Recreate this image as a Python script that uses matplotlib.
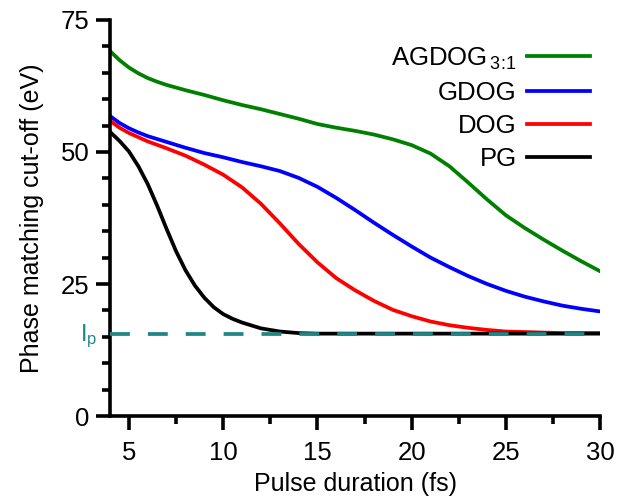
import matplotlib.pyplot as plt
import numpy as np

plt.rcParams['font.family'] = ['Liberation Sans', 'DejaVu Sans']
plt.rcParams['mathtext.fontset'] = 'custom'
plt.rcParams['mathtext.rm'] = 'Liberation Sans'
plt.rcParams['mathtext.it'] = 'Liberation Sans:italic'

# cut-off energy (eV) vs pulse duration (fs)
t_agdog = [4, 4.5, 5, 5.5, 6, 6.5, 7, 8, 9, 10, 11, 12, 13, 14, 15, 16, 17, 18, 19,
           20, 21, 22, 23, 24, 25, 26, 27, 28, 29, 30]
agdog = [69.1, 67.4, 66.0, 64.9, 64.0, 63.3, 62.7, 61.7, 60.8, 59.8, 58.9, 58.1, 57.2,
         56.3, 55.3, 54.6, 54.0, 53.3, 52.4, 51.3, 49.7, 47.3, 44.2, 41.0, 38.0, 35.6,
         33.4, 31.3, 29.3, 27.4]

t_gdog = [4, 4.5, 5, 5.5, 6, 7, 8, 9, 10, 11, 12, 13, 14, 15, 16, 17, 18, 19, 20,
          21, 22, 23, 24, 25, 26, 27, 28, 29, 30]
gdog = [56.8, 55.5, 54.5, 53.7, 53.0, 51.9, 50.8, 49.8, 49.0, 48.1, 47.3, 46.4, 45.1,
        43.4, 41.3, 39.0, 36.6, 34.3, 32.1, 30.0, 28.2, 26.5, 25.0, 23.7, 22.6, 21.7,
        20.9, 20.3, 19.8]

t_dog = [4, 4.5, 5, 5.5, 6, 7, 8, 9, 10, 11, 12, 13, 14, 15, 16, 17, 18, 19, 20,
         21, 22, 23, 24, 25, 26, 27, 28, 29, 30]
dog = [55.9, 54.6, 53.6, 52.8, 52.0, 50.7, 49.3, 47.6, 45.7, 43.3, 40.2, 36.5, 32.6,
       29.1, 26.1, 23.8, 21.8, 20.1, 18.9, 17.9, 17.2, 16.7, 16.3, 16.0, 15.9, 15.8,
       15.7, 15.7, 15.7]

t_pg = [4, 4.5, 5, 5.5, 6, 6.5, 7, 7.5, 8, 8.5, 9, 9.5, 10, 10.5, 11, 12, 13, 14, 15,
        20, 25, 30]
pg = [53.8, 52.1, 50.1, 47.3, 43.9, 39.8, 35.4, 31.2, 27.6, 24.7, 22.4, 20.6, 19.3,
      18.4, 17.7, 16.6, 16.0, 15.7, 15.6, 15.6, 15.6, 15.6]

ip = 15.6

fig = plt.figure(figsize=(6.22, 5.0), dpi=100)
ax = fig.add_axes([0.177, 0.168, 0.788, 0.792])

lw = 2.7
ax.plot(t_agdog, agdog, color='#008000', lw=lw, label=r'AGDOG$_{\,3\!:\!1}$')
ax.plot(t_gdog, gdog, color='#0000ff', lw=lw, label='GDOG')
ax.plot(t_dog, dog, color='#ff0000', lw=lw, label='DOG')
ax.plot(t_pg, pg, color='black', lw=lw, label='PG')
ax.plot([4, 30], [ip, ip], color='#1f8585', lw=2.7, dashes=(5.3, 4.8), zorder=5)
ax.text(3.3, ip - 0.5, r'I$_\mathrm{p}$', color='#1f8585', fontsize=17,
        ha='right', va='center', clip_on=False)

ax.set_xlim(4, 30)
ax.set_ylim(0, 75)
ax.set_xticks([5, 10, 15, 20, 25, 30])
ax.set_xticks(np.arange(7.5, 30, 5), minor=True)
ax.set_yticks([0, 25, 50, 75])
ax.set_yticks(np.arange(5, 75, 5), minor=True)

for side in ('top', 'right'):
    ax.spines[side].set_visible(False)
for side in ('left', 'bottom'):
    ax.spines[side].set_linewidth(2.6)
ax.tick_params(which='major', direction='out', length=10, width=2.6, labelsize=18.5)
ax.tick_params(which='minor', direction='out', length=6, width=2.6)
ax.tick_params(axis='x', which='major', pad=8)
ax.tick_params(axis='y', which='major', pad=5)

ax.set_xlabel('Pulse duration (fs)', fontsize=18, labelpad=5)
ax.set_ylabel('Phase matching cut-off (eV)', fontsize=18, labelpad=12)

ax.legend(loc='upper right', bbox_to_anchor=(1.0, 0.962), markerfirst=False,
          frameon=False, fontsize=18.5, handlelength=2.45, handletextpad=0.4,
          labelspacing=0.36, borderaxespad=0.0)

plt.savefig('out.png', dpi=100)
